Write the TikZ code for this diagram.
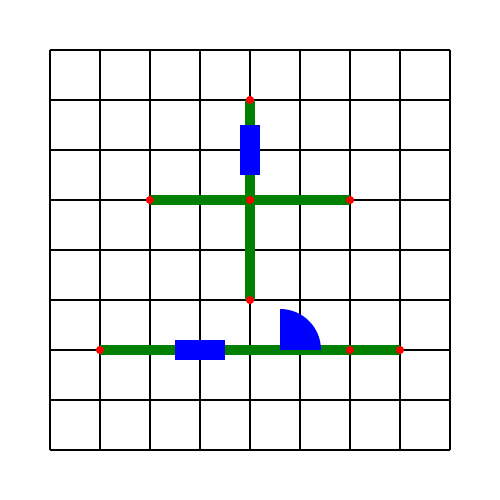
\documentclass[tikz,border=0pt]{standalone}
\usepackage{xcolor}
\usepackage{tikz}
\usetikzlibrary{positioning,calc}
\definecolor{wirecol}{RGB}{0,128,0}
\definecolor{partcol}{RGB}{0,0,255}
\definecolor{dotcol} {RGB}{255,0,0}
\begin{document}
\begin{tikzpicture}[
  gridline/.style={line width=1.1pt,black},
  wire/.style={line width=5.7pt,wirecol},
  part/.style={fill=partcol,draw=none},
  pin/.style={circle,fill=dotcol,draw=none,minimum size=0.16cm,inner sep=0pt}
]
\useasboundingbox (-1,-1) rectangle (9,9);
\draw[gridline] (0,0) grid (8,8);
% junction points
\node[pin] (top)   at (4,7) {};
\node[pin] (left)  at (2,5) {};
\node[pin] (mid)   at (4,5) {};
\node[pin] (right) at (6,5) {};
\node[pin] (low)   at (4,3) {};
\node[pin] (bl)    at (1,2) {};
\node[pin] (bm)    at (6,2) {};
\node[pin] (br)    at (7,2) {};
% wires
\draw[wire] (top.center)--(mid.center)--(low.center);
\draw[wire] (left.center)--(mid.center)--(right.center);
\draw[wire] (bl.center)--(bm.center)--(br.center);
% parts on the wires
\fill[part] (3.8,5.5) rectangle (4.2,6.5);
\fill[part] (2.5,1.8) rectangle (3.5,2.2);
\fill[part] (4.6,2) -- (5.42,2) arc (0:90:0.82) -- cycle;
% pins on top
\foreach \p in {top,left,mid,right,low,bl,bm,br}
  \fill[dotcol] (\p) circle (0.08);
\end{tikzpicture}
\end{document}
